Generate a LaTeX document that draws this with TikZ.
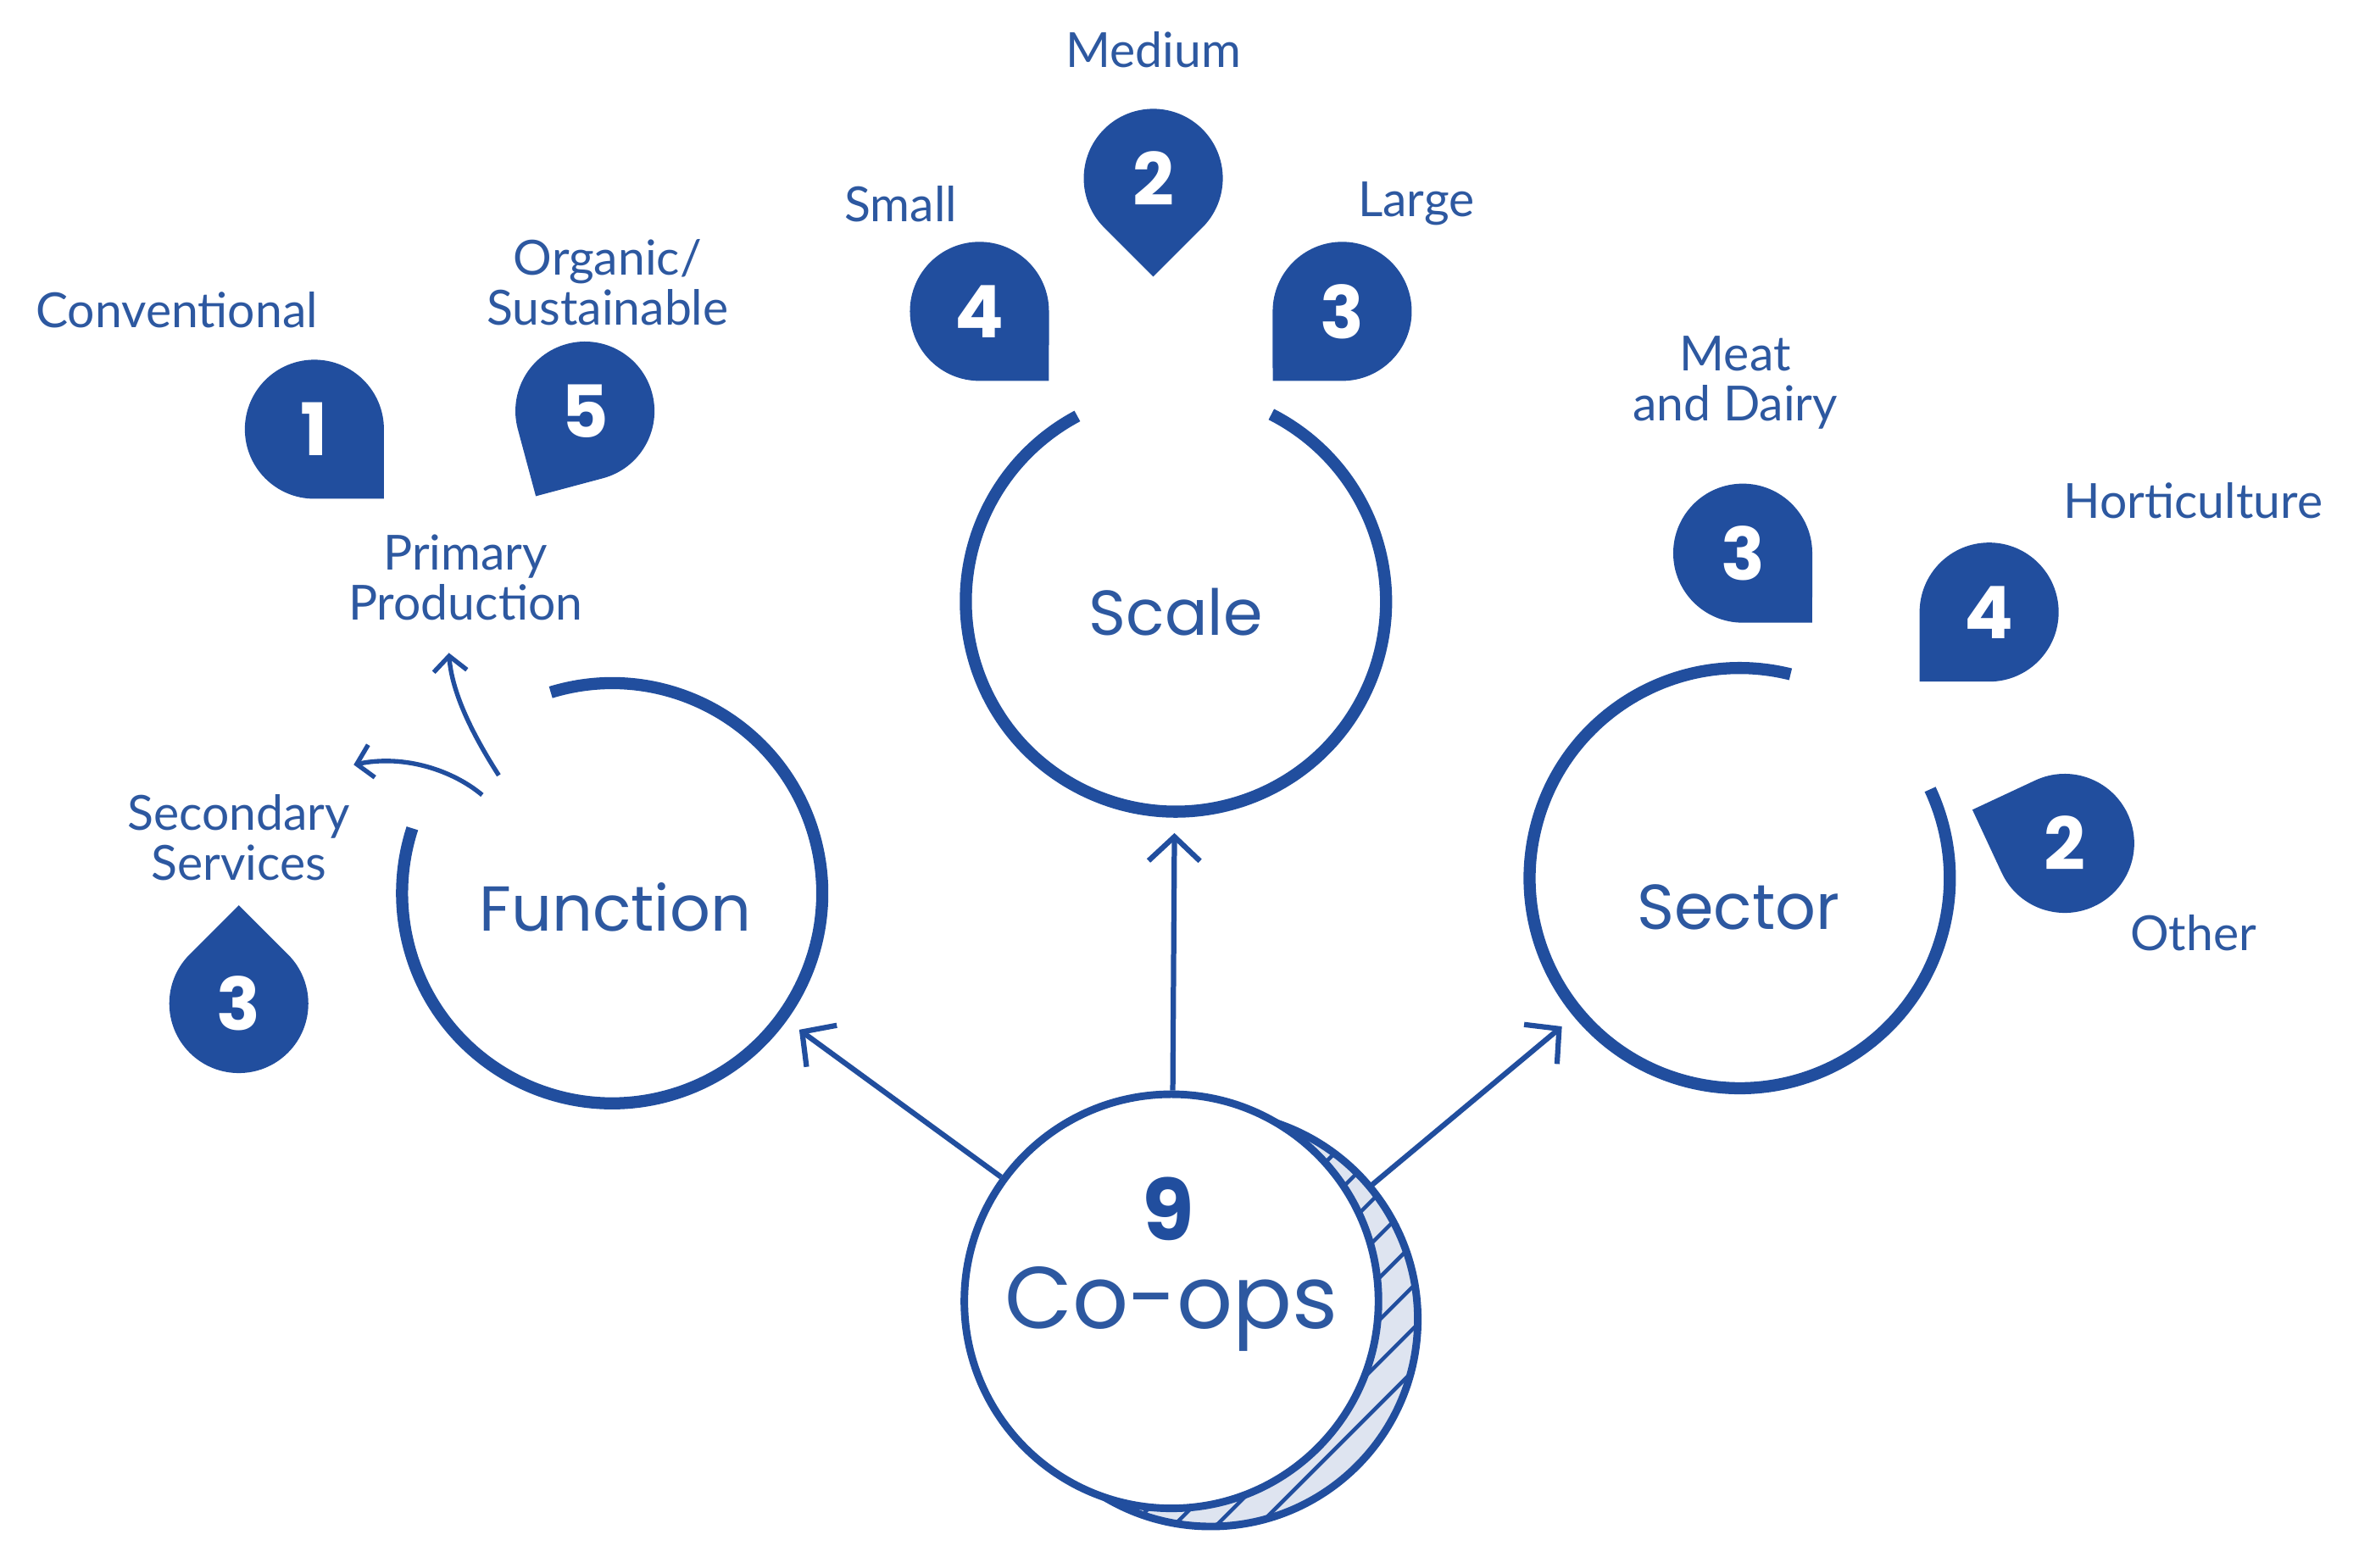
\documentclass[tikz,border=0pt]{standalone}
\usepackage{fontspec}
\usetikzlibrary{calc,arrows.meta}
\newfontfamily\labfont{Lato}
\newfontfamily\headfont{Poppins}
\newfontfamily\boldfont{Poppins Bold}
\definecolor{brand}{RGB}{33,78,158}
\definecolor{labcol}{RGB}{45,88,160}
\definecolor{hatchfill}{RGB}{222,228,240}
\newcommand\pinmark[5]{%
  \path[fill=brand] ($(#2,#3)+(#4:65)$) -- ($(#2,#3)+({#4+45}:46)$)
    arc[start angle={#4+45}, end angle={#4+315}, radius=46] -- cycle;
  \node[pinnum] (#1) at (#2,#3) {#5};}
\begin{document}
\begin{tikzpicture}[x=1pt,y=1pt,
  lab/.style={font=\labfont\fontsize{32}{33}\selectfont, text=labcol, align=center, inner sep=0pt},
  head/.style={font=\headfont\fontsize{42}{46}\selectfont, text=labcol, inner sep=0pt},
  pinnum/.style={font=\boldfont\fontsize{48}{48}\selectfont, text=white, inner sep=0pt},
  ring/.style={draw=brand, line width=8pt},
  hub/.style={circle, inner sep=0pt, minimum size=278pt},
  arr/.style={draw=brand, line width=3.5pt, -{Straight Barb[length=16pt,width=34pt]}, shorten >=14pt},
  smallarr/.style={draw=brand, line width=3pt, -{Straight Barb[length=10pt,width=22pt]}}]
\useasboundingbox (0,0) rectangle (1568,-1037);

% ---- main circles (nodes used by connectors)
\node[hub] (func) at (405,-591) {};
\node[hub] (scale) at (778,-398) {};
\node[hub] (sector) at (1151,-581) {};

\draw[ring] ($(func)+(107:139)$) arc[start angle=107, end angle=-198, radius=139];
\draw[ring] ($(scale)+(63:139)$) arc[start angle=63, end angle=-242, radius=139];
\draw[ring] ($(sector)+(76:139)$) arc[start angle=76, end angle=385, radius=139];

\node[head] (functext) at (407,-600) {Function};
\node[head] (scaletext) at (778,-405) {Scale};
\node[head] (sectortext) at (1150,-600) {Sector};

% ---- Co-ops hub with hatched crescent
\node[circle, inner sep=0pt, minimum size=274pt] (shadow) at (801,-873) {};
\begin{scope}
  \clip (801,-873) circle[radius=137];
  \fill[hatchfill] (801,-873) circle[radius=137];
  \foreach \k in {-448,-420,...,448}
    \draw[brand, line width=2.5pt] (801+\k-220,-873-220) -- (801+\k+220,-873+220);
\end{scope}
\draw[brand, line width=5pt] (801,-873) circle[radius=137];
\node[circle, draw=brand, line width=5pt, fill=white, inner sep=0pt, minimum size=274pt] (coops) at (775,-861) {};
\node[font=\boldfont\fontsize{56}{56}\selectfont, text=brand, inner sep=0pt] (nine) at (773,-800) {9};
\node[font=\headfont\fontsize{58}{62}\selectfont, text=labcol, inner sep=0pt] (cooptext) at (775,-866) {Co-ops};

% ---- connectors from the hub
\draw[arr] (coops) -- (func);
\draw[arr] (coops) -- (scale);
\draw[arr] (shadow) -- (sector);

% ---- Function branches
\node[lab] (primary) at (308,-382) {Primary\\Production};
\node[lab] (secondary) at (158,-554) {Secondary\\Services};
\coordinate (gapA) at (330,-513);
\coordinate (gapB) at (319,-526);
\coordinate (tipA) at (297,-432);
\coordinate (tipB) at (234,-506);
\draw[smallarr] (gapA) .. controls (312,-485) and (299,-458) .. (tipA);
\draw[smallarr] (gapB) .. controls (300,-510) and (268,-499) .. (tipB);

% ---- pins
\pinmark{pconv}{208}{-284}{-45}{1}
\pinmark{porg}{387}{-272}{-120}{5}
\pinmark{psec}{158}{-664}{90}{3}
\pinmark{psmall}{648}{-206}{-45}{4}
\pinmark{pmed}{763}{-118}{-90}{2}
\pinmark{plarge}{888}{-206}{-135}{3}
\pinmark{pmeat}{1153}{-366}{-45}{3}
\pinmark{phort}{1316}{-405}{-135}{4}
\pinmark{pother}{1366}{-558}{160}{2}

% ---- labels
\node[lab] (lconv) at (117,-205) {Conventional};
\node[lab] (lorg) at (402,-187) {Organic/\\Sustainable};
\node[lab] (lsmall) at (596,-135) {Small};
\node[lab] (lmed) at (763,-33) {Medium};
\node[lab] (llarge) at (937,-135) {Large};
\node[lab] (lmeat) at (1148,-253) {Meat\\and Dairy};
\node[lab] (lhort) at (1451,-331) {Horticulture};
\node[lab] (lother) at (1451,-617) {Other};
\end{tikzpicture}
\end{document}
